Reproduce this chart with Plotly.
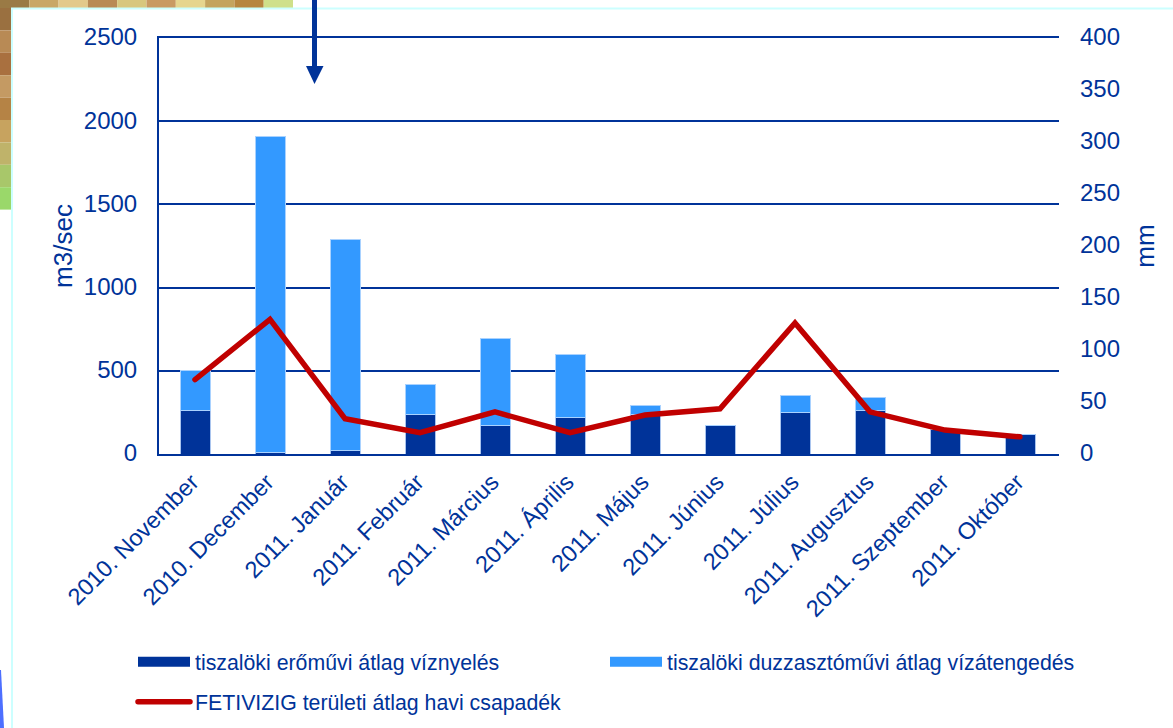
import plotly.graph_objects as go

months = ["2010. November", "2010. December", "2011. Január", "2011. Február", "2011. Március",
          "2011. Április", "2011. Május", "2011. Június", "2011. Július", "2011. Augusztus",
          "2011. Szeptember", "2011. Október"]
eromu = [264, 10, 22, 240, 172, 220, 240, 170, 250, 262, 145, 120]
duzzasztomu = [238, 1898, 1266, 176, 521, 376, 50, 0, 100, 76, 0, 0]
csapadek = [71.5, 129.5, 34, 20.5, 40.5, 20.5, 37.5, 43.5, 126, 40.5, 23, 16.5]

NAVY = "#003399"
SKY = "#3399FF"
RED = "#C00000"
FONT = "Liberation Sans"
W, H = 1173, 728
L, R, T, B = 159, 114, 38, 274
PW, PH = W - L - R, H - T - B

def px(x): return (x - L) / PW
def py(y): return (H - B - y) / PH

fig = go.Figure()
fig.add_bar(x=months, y=eromu, marker=dict(color=NAVY, line=dict(color="#A9C4EE", width=1)), showlegend=False)
fig.add_bar(x=months, y=duzzasztomu, marker=dict(color=SKY, line=dict(color="#A9D2FF", width=1)), showlegend=False)
fig.add_scatter(x=[None], y=[None], mode="lines", line=dict(color=NAVY, width=12),
                name="tiszalöki erőművi átlag víznyelés", legend="legend")
fig.add_scatter(x=[None], y=[None], mode="lines", line=dict(color=SKY, width=12),
                name="tiszalöki duzzasztóművi átlag vízátengedés", legend="legend2")
fig.add_scatter(x=months, y=csapadek, yaxis="y2", mode="lines", line=dict(color=RED, width=5.5),
                name="FETIVIZIG területi átlag havi csapadék", legend="legend3")

def rect(x0, y0, x1, y1, color):
    return dict(type="rect", xref="paper", yref="paper", x0=px(x0), x1=px(x1), y0=py(y0), y1=py(y1),
                fillcolor=color, line_width=0, layer="below")

top_strip = ["#9A7A45", "#C9A766", "#E3C98A", "#B98A55", "#D8C77E", "#C99A63", "#E6D58E", "#C4A45E", "#B7863F", "#CFE08A"]
left_strip = ["#9A7040", "#B88A55", "#A9703F", "#C49A63", "#B58345", "#C7A35F", "#BFB36A", "#A8C76A", "#9AD86A"]
shapes = []
for i, c in enumerate(top_strip):
    shapes.append(rect(i * 29.3, 0, (i + 1) * 29.3, 8, c))
for i, c in enumerate(left_strip):
    shapes.append(rect(0, 8 + i * 22.4, 11, 8 + (i + 1) * 22.4, c))
shapes += [
    dict(type="line", xref="paper", yref="paper", x0=px(12), x1=px(12), y0=py(8), y1=py(728), line=dict(color="#CCFFFF", width=2), layer="below"),
    dict(type="line", xref="paper", yref="paper", x0=px(11), x1=px(1173), y0=py(8.5), y1=py(8.5), line=dict(color="#CCFFFF", width=2), layer="below"),
    dict(type="path", xref="paper", yref="paper", layer="below", line_width=0, fillcolor="#4D6FFF",
         path=f"M {px(0)} {py(670)} L {px(1)} {py(670)} L {px(4)} {py(728)} L {px(0)} {py(728)} Z"),
    dict(type="line", xref="paper", yref="paper", x0=px(314.5), x1=px(314.5), y0=py(0), y1=py(68), line=dict(color=NAVY, width=5)),
    dict(type="path", xref="paper", yref="paper", line_width=0, fillcolor=NAVY,
         path=f"M {px(306)} {py(66)} L {px(323.5)} {py(66)} L {px(314.5)} {py(84)} Z"),
]

xtick = dict(size=23.5, color=NAVY, family=FONT)
ytick = dict(size=24, color=NAVY, family=FONT)
title_font = dict(size=26, color=NAVY, family=FONT)
legend_font = dict(size=21.3, color=NAVY, family=FONT)

def legend_at(x, y):
    return dict(orientation="h", xref="container", yref="container", x=x / W, xanchor="left", y=1 - y / H,
                yanchor="middle", itemwidth=52, font=legend_font, bgcolor="rgba(0,0,0,0)")

fig.update_layout(
    width=W, height=H, barmode="stack", bargap=0.6,
    margin=dict(l=L, r=R, t=T, b=B),
    paper_bgcolor="white", plot_bgcolor="white",
    font=dict(family=FONT, color=NAVY),
    shapes=shapes,
    xaxis=dict(tickangle=-45, tickfont=xtick, showgrid=False, ticks="", showline=True, linecolor=NAVY, linewidth=2,
               mirror=True, range=[-0.48, 11.52], ticklabelshift=-3, ticklabelstandoff=3),
    yaxis=dict(range=[0, 2500], tick0=0, dtick=500, tickfont=ytick, gridcolor=NAVY, gridwidth=2, zeroline=False,
               showline=True, linecolor=NAVY, linewidth=2, ticklabelstandoff=15, ticklabelshift=-1,
               title=dict(text="m3/sec", font=title_font, standoff=4)),
    yaxis2=dict(range=[0, 400], tick0=0, dtick=50, overlaying="y", side="right", tickfont=ytick, showgrid=False, zeroline=False,
                ticklabelstandoff=20, ticklabelshift=-1,
                title=dict(text="mm", font=title_font, standoff=16)),
    legend=legend_at(133, 662),
    legend2=legend_at(605, 662),
    legend3=legend_at(133, 702),
)
round_caps = """
document.body.style.margin='0';
document.querySelectorAll('.scatterlayer .js-line, .legendlines path').forEach(function(e){
  if (e.style.stroke.indexOf('192, 0, 0') >= 0) { e.style.strokeLinecap = 'round'; }
});
"""
fig.write_html("out.html", config=dict(displayModeBar=False), post_script=round_caps)
